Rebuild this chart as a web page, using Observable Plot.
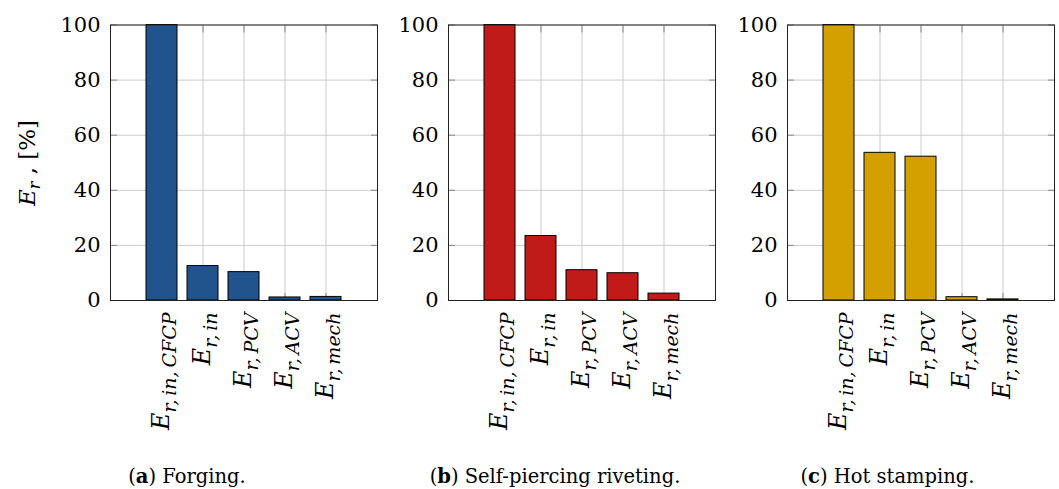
<!DOCTYPE html>
<html>
<head>
<meta charset="utf-8">
<script src="https://cdn.jsdelivr.net/npm/d3@7"></script>
<script src="https://cdn.jsdelivr.net/npm/@observablehq/plot@0.6"></script>
<style>
  body { margin: 0; background: #fff; }
  #root { position: relative; width: 1059px; height: 489px; overflow: hidden; font-family: "DejaVu Serif", serif; color: #000; }
  .panel { position: absolute; top: 0; }
  .caption { position: absolute; top: 467px; font-size: 19.5px; line-height: 20px; white-space: nowrap; transform: translateX(-50%); }
  .ylabel { position: absolute; left: 29px; top: 163px; transform: translate(-50%, -50%) rotate(-90deg); font-size: 23px; white-space: nowrap; }
  .ylabel sub { font-size: 16px; font-style: italic; }
</style>
</head>
<body>
<div id="root"></div>
<script>
// ---- data ----
const categories = ["E_{r,in,CFCP}", "E_{r,in}", "E_{r,PCV}", "E_{r,ACV}", "E_{r,mech}"];
const forgingValues = [100, 12.5, 10.3, 1.1, 1.3];
const rivetingValues = [100, 23.4, 11.0, 9.9, 2.5];
const stampingValues = [100, 53.6, 52.2, 1.2, 0.4];
const yTicks = [0, 20, 40, 60, 80, 100];
const panelLetters = ["a", "b", "c"];
const panelTitles = ["Forging.", "Self-piercing riveting.", "Hot stamping."];
const panelColors = ["#21548c", "#c11b19", "#d4a000"];
const panelValues = [forgingValues, rivetingValues, stampingValues];

// ---- layout ----
const frameLefts = [110, 448.3, 787.3];
const captionCenters = [187, 555, 887.5];
const ML = 70, MR = 4, MT = 24.5, MB = 150, FW = 267, FH = 275.5;

const root = document.getElementById("root");
const NS = "http://www.w3.org/2000/svg";

function mathify(t, mainSize, subSize) {
  const m = t.textContent.match(/^(.*)_\{(.*)\}$/);
  if (!m) return;
  t.textContent = "";
  const a = document.createElementNS(NS, "tspan");
  a.textContent = m[1];
  a.setAttribute("font-style", "italic");
  a.setAttribute("font-size", mainSize);
  const b = document.createElementNS(NS, "tspan");
  b.textContent = m[2].replace(/,/g, ",\u2009");
  b.setAttribute("font-style", "italic");
  b.setAttribute("font-size", subSize);
  b.setAttribute("dy", "0.4em");
  t.appendChild(a);
  t.appendChild(b);
}

panelValues.forEach((values, p) => {
  const data = categories.map((c, i) => ({cat: c, value: values[i]}));
  const svg = Plot.plot({
    width: ML + FW + MR,
    height: MT + FH + MB,
    marginLeft: ML, marginRight: MR, marginTop: MT, marginBottom: MB,
    style: {fontFamily: "DejaVu Serif", fontSize: "21px", color: "#000", background: "transparent", overflow: "visible"},
    x: {domain: categories, paddingInner: 0.238, paddingOuter: 0.8},
    y: {domain: [0, 100]},
    marks: [
      Plot.gridX({stroke: "#cbcbcb", strokeOpacity: 1}),
      Plot.gridY(yTicks, {stroke: "#cbcbcb", strokeOpacity: 1}),
      Plot.axisY(yTicks, {anchor: "left", tickSize: -7, tickPadding: 17, stroke: "#888", fill: "#000", label: null, fontSize: 21}),
      Plot.axisY(yTicks, {anchor: "right", tickSize: -7, stroke: "#888", fill: "none", label: null}),
      Plot.axisX({anchor: "top", tickSize: -7, stroke: "#888", fill: "none", label: null}),
      Plot.axisX({anchor: "bottom", tickSize: -7, tickPadding: 19, tickRotate: -90, textAnchor: "end", stroke: "#888", fill: "#000", label: null}),
      Plot.barY(data, {x: "cat", y: "value", fill: panelColors[p], stroke: "#000", strokeWidth: 1}),
      Plot.frame({stroke: "#222"})
    ]
  });
  svg.querySelectorAll('g[aria-label="x-axis tick label"] text').forEach(t => mathify(t, "24px", "19px"));
  const holder = document.createElement("div");
  holder.className = "panel";
  holder.style.left = (frameLefts[p] - ML) + "px";
  holder.appendChild(svg);
  root.appendChild(holder);

  const cap = document.createElement("div");
  cap.className = "caption";
  cap.style.left = captionCenters[p] + "px";
  cap.innerHTML = "(<b>" + panelLetters[p] + "</b>) " + panelTitles[p];
  root.appendChild(cap);
});

const yl = document.createElement("div");
yl.className = "ylabel";
yl.innerHTML = '<i>E</i><sub>r</sub> , [%]';
root.appendChild(yl);
</script>
</body>
</html>
